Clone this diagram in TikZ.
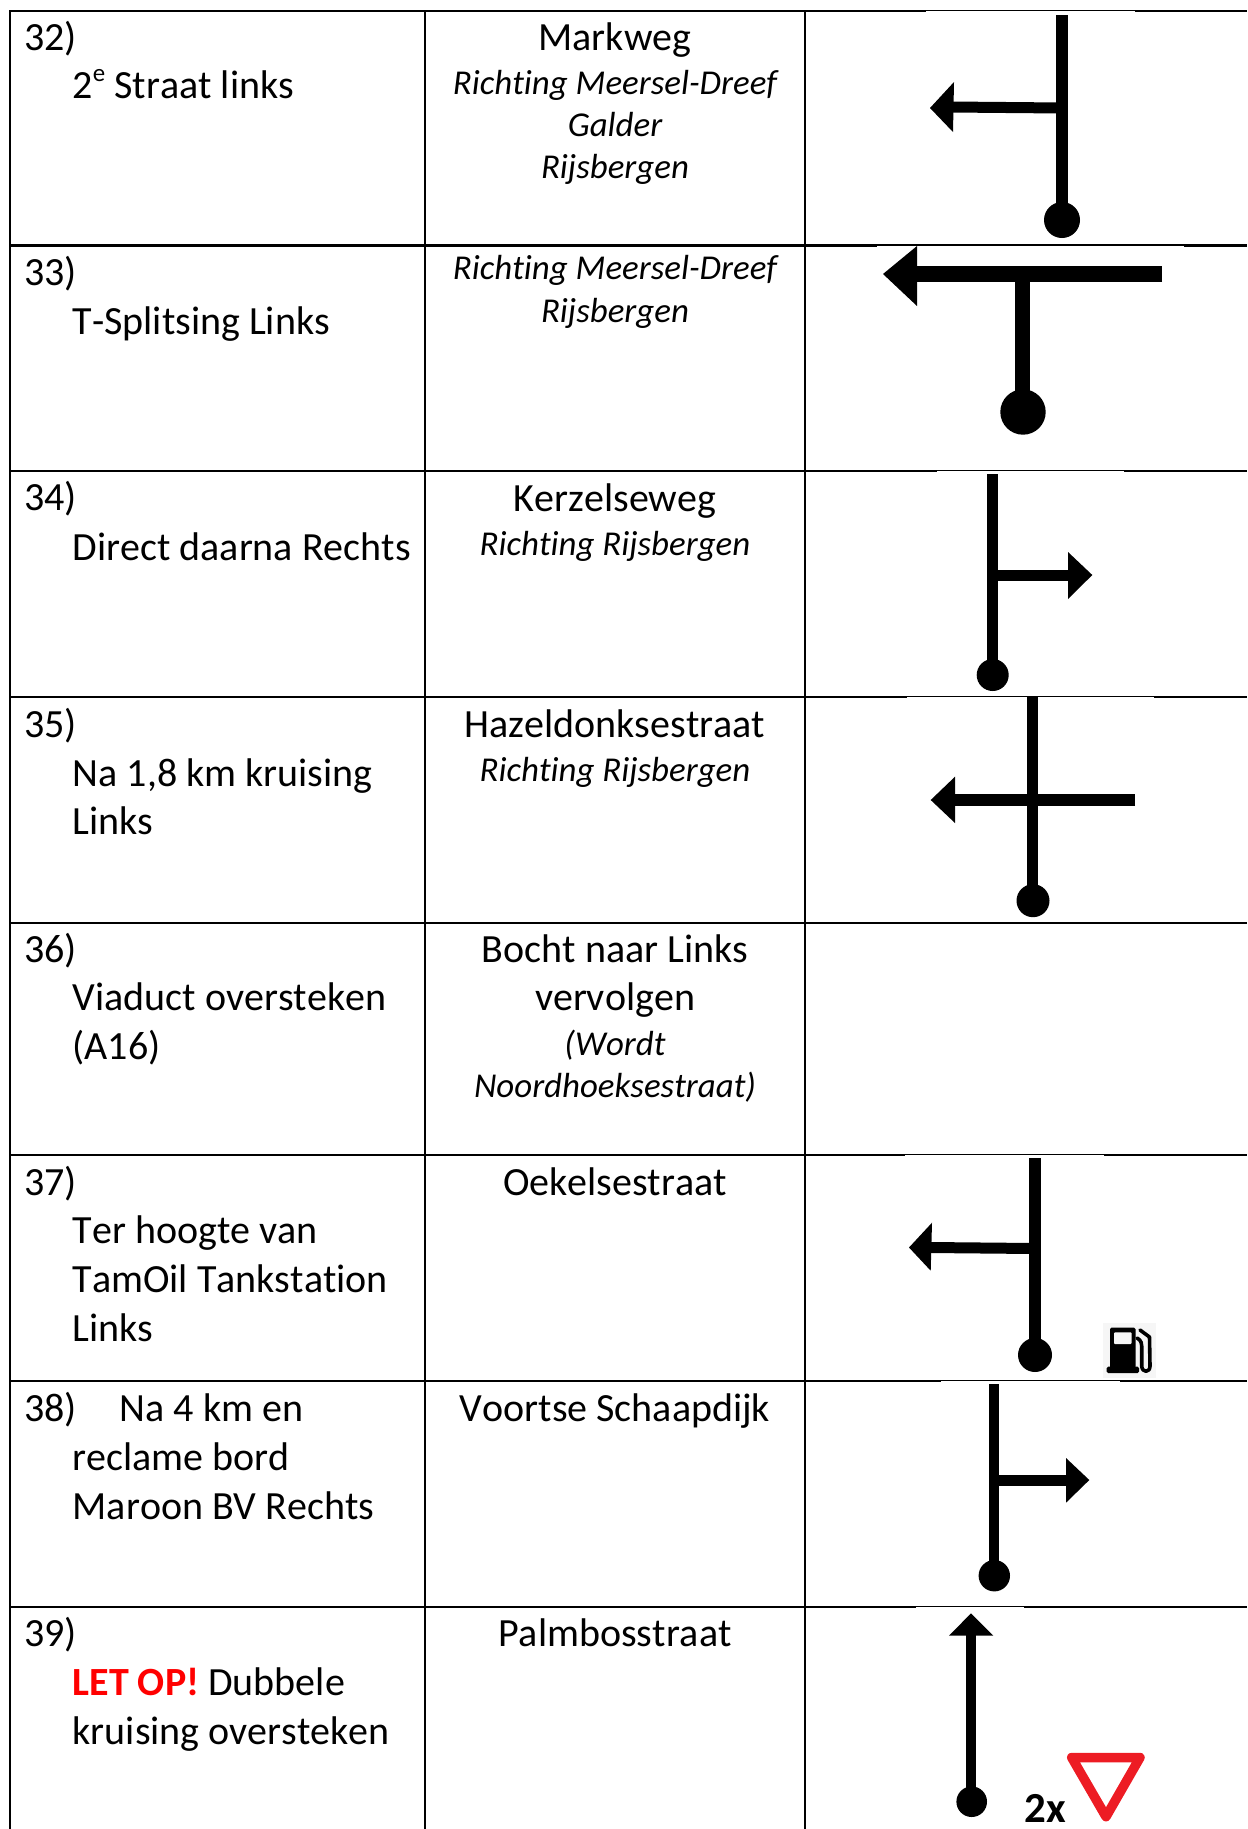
\documentclass[tikz,border=0pt]{standalone}
\usepackage{fontspec}
\setmainfont{Carlito}[Kerning=Off]
\definecolor{signred}{HTML}{ED1C24}
\definecolor{pumpbg}{HTML}{F6F6F6}
\newcommand{\bigtxt}{\fontsize{40.15}{49}\selectfont}
\newcommand{\smalltxt}{\fontsize{35}{43}\selectfont\itshape}
\newcommand{\supe}{\raisebox{0.42em}{\fontsize{25}{25}\selectfont e}}
\newcommand{\nl}{\kern0pt }
\tikzset{
  grid/.style={draw=black,line width=2.1bp},
  notch/.style={fill=white,draw=none},
  lft/.style={anchor=base west,inner sep=0pt,font=\bigtxt},
  mid/.style={anchor=base,inner sep=0pt,font=\bigtxt},
  ital/.style={anchor=base,inner sep=0pt,font=\smalltxt},
  road/.style={draw=black,line cap=butt},
  head/.style={fill=black,draw=none},
  knob/.style={fill=black,draw=none}
}
\begin{document}
\begin{tikzpicture}[x=1bp,y=-1bp]
\useasboundingbox (0,0) rectangle (1247,1829);
% grid
\foreach \y in {11.3,245.5,471,696.7,923.3,1155.3,1381,1607.3}
  \draw[grid] (9,\y) -- (1247,\y);
\foreach \x in {10.2,425,804.8}
  \draw[grid] (\x,10.3) -- (\x,1829);
% thin parts of the rules, under the pictures
\fill[notch] (926,11.3) rectangle (1135,13);
\fill[notch] (877,245.6) rectangle (1184,247.5);
\fill[notch] (937,471) rectangle (1124,473);
\fill[notch] (907,696.7) rectangle (1154,699);
\fill[notch] (905,1155.3) rectangle (1104,1157.5);
\fill[notch] (941,1381) rectangle (1120,1383);
\fill[notch] (916,1607.3) rectangle (1024,1609.5);
% left column
\node[lft] (a32) at (24,50) {32)};
\node[lft] (b32) at (72.5,98.5) {2\supe{} Straat links};
\node[lft] (a33) at (24,285) {33)};
\node[lft] (b33) at (72.5,334) {T-Splitsing Links};
\node[lft] (a34) at (24,510.5) {34)};
\node[lft] (b34) at (72.5,560) {Direct daarna Rechts};
\node[lft] (a35) at (24,737) {35)};
\node[lft] (b35) at (72.5,786) {Na 1,8 km kruising};
\node[lft] (c35) at (72.5,834) {Links};
\node[lft] (a36) at (24,962) {36)};
\node[lft] (b36) at (72.5,1010.5) {Viaduct oversteken};
\node[lft] (c36) at (72.5,1059.5) {(A16)};
\node[lft] (a37) at (24,1195) {37)};
\node[lft] (b37) at (72.5,1243.5) {Ter hoogte van};
\node[lft] (c37) at (72.5,1292.5) {TamOil Tankstat\nl ion};
\node[lft] (d37) at (72.5,1341.5) {Links};
\node[lft] (a38) at (24,1421) {38)};
\node[lft] (e38) at (119.5,1421) {Na 4 km en};
\node[lft] (b38) at (72.5,1470) {reclame bord};
\node[lft] (c38) at (72.5,1519) {Maroon BV Rechts};
\node[lft] (a39) at (24,1646) {39)};
\node[lft] (b39) at (72.5,1695) {\textcolor{red}{\textbf{LET OP!}} Dubbele};
\node[lft] (c39) at (72.5,1744) {kruising oversteken};
% middle column
\node[mid] (m32) at (615,50) {Markweg};
\node[ital] (n32) at (615,94) {Richt\nl ing Meersel-Dreef};
\node[ital] (o32) at (615,136) {Galder};
\node[ital] (p32) at (615,178) {Rijsbergen};
\node[ital] (n33) at (615,279) {Richt\nl ing Meersel-Dreef};
\node[ital] (o33) at (615,322) {Rijsbergen};
\node[mid] (m34) at (615,511) {Kerzelseweg};
\node[ital] (n34) at (615,555) {Richt\nl ing Rijsbergen};
\node[mid] (m35) at (615,737) {Hazeldonksestraat};
\node[ital] (n35) at (615,781) {Richt\nl ing Rijsbergen};
\node[mid] (m36) at (615,962) {Bocht naar Links};
\node[mid] (o36) at (615,1010.5) {vervolgen};
\node[ital] (p36) at (615,1055) {(Wordt};
\node[ital] (q36) at (615,1097) {Noordhoeksestraat)};
\node[mid] (m37) at (615,1195) {Oekelsestraat};
\node[mid] (m38) at (615,1421) {Voortse Schaapdijk};
\node[mid] (m39) at (615,1646) {Palmbosstraat};
% symbol 32
\draw[road,line width=12.5bp] (1062,15) -- (1062,220);
\draw[road,line width=11bp] (1062,108) -- (950,107);
\fill[head] (930,108) -- (954,82) -- (953,132) -- cycle;
\fill[knob] (1062,220) circle (18);
% symbol 33
\draw[road,line width=16bp] (1162,274) -- (915,274);
\fill[head] (883,274) -- (917,246) -- (917,306) -- cycle;
\draw[road,line width=15bp] (1022.5,274) -- (1022.5,412);
\fill[knob] (1023,412) circle (22.7);
% symbol 34
\draw[road,line width=11.3bp] (992.7,474) -- (992.7,675);
\draw[road,line width=11bp] (992.7,575) -- (1070,575);
\fill[head] (1068,552) -- (1092.3,575) -- (1068,599) -- cycle;
\fill[knob] (992.7,675) circle (16);
% symbol 35
\draw[road,line width=11bp] (1032.7,697) -- (1032.7,900);
\draw[road,line width=12bp] (1135,800) -- (953,800);
\fill[head] (930.7,800) -- (955,776.7) -- (955,823) -- cycle;
\fill[knob] (1033,900.7) circle (16.5);
% symbol 37
\draw[road,line width=12bp] (1034.5,1158) -- (1034.5,1355);
\draw[road,line width=11bp] (1034,1248.5) -- (930,1247.5);
\fill[head] (909,1247.5) -- (932,1222.7) -- (930.7,1270.7) -- cycle;
\fill[knob] (1035,1355) circle (17);
% fuel pump
\fill[pumpbg] (1103.3,1322.7) rectangle (1156,1377.7);
\fill[black,rounded corners=1.5bp] (1110,1327.7) rectangle (1135.7,1368);
\fill[black,rounded corners=1.5bp] (1106.7,1366.7) rectangle (1139,1373);
\fill[pumpbg,rounded corners=1bp] (1114,1332.3) rectangle (1131.7,1344);
\draw[black,line width=3.6bp,line join=round,line cap=round]
  (1140,1330) -- (1149.5,1337) -- (1150,1366) .. controls (1150,1373) and (1142,1373) .. (1141.7,1366) -- (1141.7,1346) .. controls (1141.7,1340) and (1138,1339) .. (1137,1338);
% symbol 38
\draw[road,line width=10.7bp] (994,1384) -- (994,1575);
\draw[road,line width=11bp] (994,1480) -- (1068,1480);
\fill[head] (1066,1458) -- (1089.3,1480) -- (1066,1502.7) -- cycle;
\fill[knob] (994.3,1575.7) circle (15.7);
% symbol 39
\draw[road,line width=10.7bp] (971,1634) -- (971,1801);
\fill[head] (971,1613.3) -- (993.3,1635.7) -- (949,1635.7) -- cycle;
\fill[knob] (971.7,1801.7) circle (15.3);
\node[anchor=base west,inner sep=0pt,font=\fontsize{43}{49}\selectfont\bfseries] (two) at (1024.5,1822.7) {2x};
\draw[signred,line width=9.5bp,line join=round] (1071.7,1757.5) -- (1140,1757.5) -- (1106,1816.7) -- cycle;
\end{tikzpicture}
\end{document}
